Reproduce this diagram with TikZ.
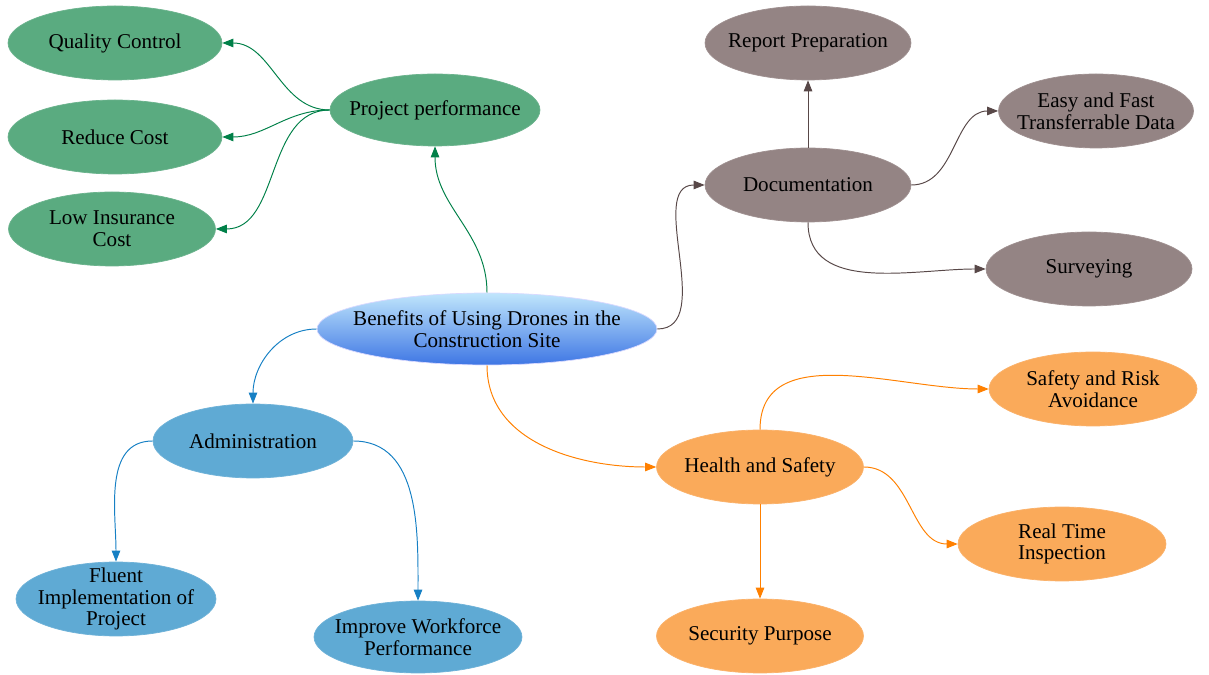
\documentclass[tikz,border=0pt]{standalone}
\usepackage{fontspec}
\setmainfont{Liberation Serif}
\usepackage{tikz}
\usetikzlibrary{shapes.geometric, arrows.meta}

\definecolor{greenfill}{RGB}{90,171,128}
\definecolor{greenline}{RGB}{0,128,72}
\definecolor{brownfill}{RGB}{148,132,132}
\definecolor{brownline}{RGB}{88,72,72}
\definecolor{bluefill}{RGB}{95,170,212}
\definecolor{blueline}{RGB}{22,128,196}
\definecolor{orangefill}{RGB}{250,170,90}
\definecolor{orangeline}{RGB}{255,128,0}

\tikzset{
  bubble/.style={ellipse, inner xsep=-12pt, inner ysep=-5pt, align=center,
    minimum width=4.12cm, minimum height=1.48cm,
    font=\fontsize{12}{12.3}\selectfont, line width=0.4pt},
  greenbub/.style={bubble, fill=greenfill, draw=greenfill!90!white},
  brownbub/.style={bubble, fill=brownfill, draw=brownfill!90!white},
  bluebub/.style={bubble, fill=bluefill, draw=bluefill!90!white},
  orangebub/.style={bubble, fill=orangefill, draw=orangefill!90!white},
  link/.style={line width=0.55pt, -{Triangle[length=2.2mm,width=1.7mm]}}
}

\begin{document}
\begin{tikzpicture}[x=0.02cm, y=0.02cm]
		\useasboundingbox (0,0) rectangle (1209,675);
		% centre
		\node[bubble, minimum width=6.8cm, minimum height=1.44cm, top color={rgb,255:red,192;green,230;blue,252}, bottom color={rgb,255:red,62;green,118;blue,228}, draw=white!85!blue] (benefits) at (487,346) {Benefits of Using Drones in the\\Construction Site};
		% project performance
		\node[greenbub, minimum width=4.2cm, minimum height=1.44cm] (perf) at (435,565) {Project performance};
		\node[greenbub, minimum width=4.28cm] (quality) at (115,632) {Quality Control};
		\node[greenbub, minimum width=4.28cm] (cost) at (115,538) {Reduce Cost};
		\node[greenbub, minimum width=4.14cm] (insurance) at (112,446) {Low Insurance\\Cost};
		% documentation
		\node[brownbub] (docu) at (808,490) {Documentation};
		\node[brownbub] (report) at (808,632) {Report Preparation};
		\node[brownbub, minimum width=3.9cm] (transfer) at (1096,564) {Easy and Fast\\Transferrable Data};
		\node[brownbub] (survey) at (1089,406) {Surveying};
		% administration
		\node[bluebub, minimum width=4.0cm] (admin) at (253,234) {Administration};
		\node[bluebub, minimum width=4.0cm] (fluent) at (116,76) {Fluent\\Implementation of\\Project};
		\node[bluebub, minimum width=4.16cm, minimum height=1.44cm] (workforce) at (418,38) {Improve Workforce\\Performance};
		% health and safety
		\node[orangebub, minimum width=4.14cm] (health) at (760,208) {Health and Safety};
		\node[orangebub, minimum width=4.16cm] (risk) at (1093,286) {Safety and Risk\\Avoidance};
		\node[orangebub, minimum width=4.16cm] (inspect) at (1062,131) {Real Time\\Inspection};
		\node[orangebub, minimum width=4.14cm] (security) at (760,39) {Security Purpose};

		\draw[link, greenline] (benefits.north) to[out=90, in=-90] (perf.south);
		\draw[link, greenline] (perf.west) to[out=180, in=0] (quality.east);
		\draw[link, greenline] (perf.west) to[out=180, in=0] (cost.east);
		\draw[link, greenline] (perf.west) to[out=180, in=0] (insurance.east);

		\draw[link, brownline] (benefits.east) to[out=0, in=180] (docu.west);
		\draw[link, brownline] (docu.north) -- (report.south);
		\draw[link, brownline] (docu.east) to[out=0, in=180] (transfer.west);
		\draw[link, brownline] (docu.south) to[out=-90, in=180] (survey.west);

		\draw[link, blueline] (benefits.west) to[out=180, in=90] (admin.north);
		\draw[link, blueline] (admin.west) to[out=180, in=90] (fluent.north);
		\draw[link, blueline] (admin.east) to[out=0, in=90] (workforce.north);

		\draw[link, orangeline] (benefits.south) to[out=-90, in=180] (health.west);
		\draw[link, orangeline] (health.north) to[out=90, in=180] (risk.west);
		\draw[link, orangeline] (health.east) to[out=0, in=180] (inspect.west);
		\draw[link, orangeline] (health.south) -- (security.north);
		\end{tikzpicture}
\end{document}
